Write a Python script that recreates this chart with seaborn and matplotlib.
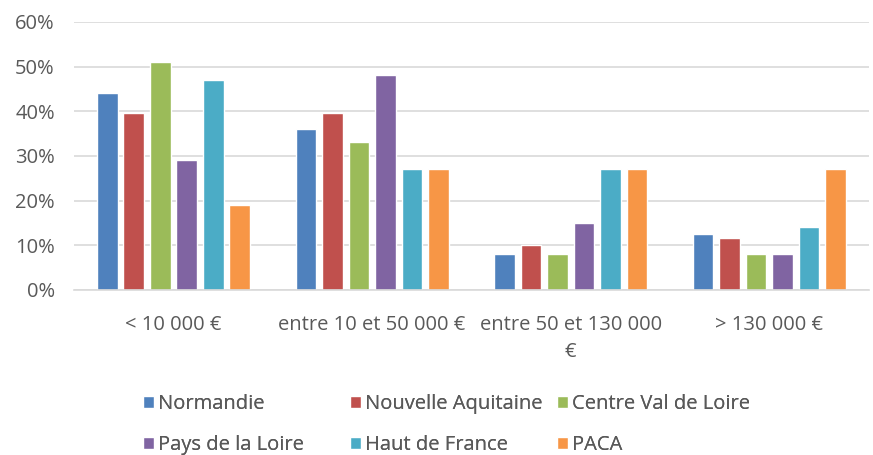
import matplotlib
matplotlib.use("Agg")
import matplotlib.pyplot as plt
import seaborn as sns
import pandas as pd
from matplotlib.ticker import FuncFormatter

categories = ["< 10 000 €", "entre 10 et 50 000 €", "entre 50 et 130 000\n€", "> 130 000 €"]
regions = ["Normandie", "Nouvelle Aquitaine", "Centre Val de Loire",
           "Pays de la Loire", "Haut de France", "PACA"]
normandie = [44, 36, 8, 12.5]
nouvelle_aquitaine = [39.5, 39.5, 10, 11.5]
centre_val_de_loire = [51, 33, 8, 8]
pays_de_la_loire = [29, 48, 15, 8]
haut_de_france = [47, 27, 27, 14]
paca = [19, 27, 27, 27]
colors = ["#4F81BD", "#C0504D", "#9BBB59", "#8064A2", "#4BACC6", "#F79646"]
yticks = [0, 10, 20, 30, 40, 50, 60]

series = [normandie, nouvelle_aquitaine, centre_val_de_loire,
          pays_de_la_loire, haut_de_france, paca]
rows = []
for reg, vals in zip(regions, series):
    for cat, v in zip(categories, vals):
        rows.append({"cat": cat, "region": reg, "val": v})
df = pd.DataFrame(rows)

sns.set_theme(style="white")
plt.rcParams["font.family"] = ["Open Sans", "DejaVu Sans"]
text_color = "#595959"
fs = 14.5

fig = plt.figure(figsize=(8.73, 4.55), dpi=100)
ax = fig.add_axes([0.085, 0.363, 0.91, 0.589])
sns.barplot(data=df, x="cat", y="val", hue="region", order=categories,
            hue_order=regions, palette=colors, width=0.8, gap=0.22,
            ax=ax, legend=True, saturation=1, errorbar=None)

ax.set_ylim(0, 60)
ax.set_yticks(yticks)
ax.yaxis.set_major_formatter(FuncFormatter(lambda v, p: f"{int(v)}%"))
ax.grid(axis="y", color="#D9D9D9", linewidth=1.2)
ax.set_axisbelow(True)
for s in ["top", "right", "left"]:
    ax.spines[s].set_visible(False)
ax.spines["bottom"].set_color("#D9D9D9")
ax.spines["bottom"].set_linewidth(1.2)
ax.set_xlabel("")
ax.set_ylabel("")
ax.tick_params(axis="both", length=0, labelsize=fs, labelcolor=text_color)
ax.tick_params(axis="x", pad=18)
ax.tick_params(axis="y", pad=14)
for lbl in ax.get_xticklabels():
    lbl.set_linespacing(1.45)

handles, labels = ax.get_legend_handles_labels()
ax.get_legend().remove()
col_x = [143, 350, 557]
cy = 1 - 424.5 / 455
for j in range(3):
    leg = fig.legend([handles[j], handles[j + 3]], [labels[j], labels[j + 3]],
                     loc="center left", bbox_to_anchor=(col_x[j] / 873, cy),
                     ncol=1, frameon=False, fontsize=fs, labelcolor=text_color,
                     handlelength=0.55, handleheight=0.55, handletextpad=0.2,
                     borderpad=0, borderaxespad=0, labelspacing=1.05)
    fig.add_artist(leg)

fig.savefig("out.png", dpi=100)
